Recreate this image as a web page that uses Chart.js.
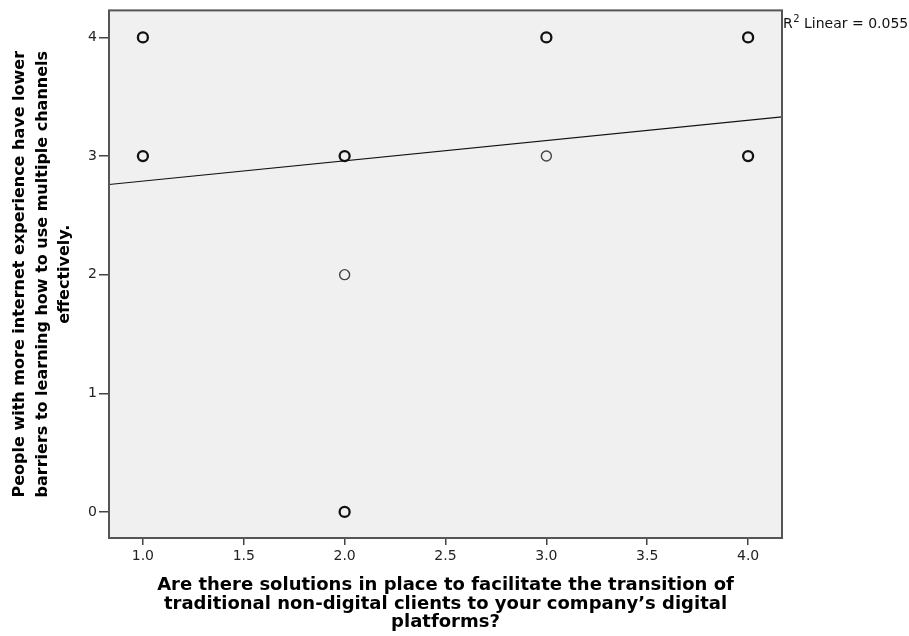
<!DOCTYPE html>
<html>
<head>
<meta charset="utf-8">
<script src="https://cdn.jsdelivr.net/npm/chart.js@4.4.1/dist/chart.umd.min.js"></script>
<style>
  html, body { margin: 0; padding: 0; background: #fff; }
  #wrap { width: 909px; height: 636px; }
</style>
</head>
<body>
<div id="wrap"><canvas id="scatter"></canvas></div>
<script>
// responses where several cases overlap (drawn heavier)
const stackedX = [1, 1, 2, 2, 3, 4, 4];
const stackedY = [4, 3, 3, 0, 4, 4, 3];
// single responses (drawn lighter)
const singleX = [2, 3];
const singleY = [2, 3];
// fit line ends
const fitX = [0.832, 4.168];
const fitY = [2.76, 3.33];
const xTicks = [1.0, 1.5, 2.0, 2.5, 3.0, 3.5, 4.0];
const yTicks = [0, 1, 2, 3, 4];
const r2Text = 'Linear = 0.055';

const toPoints = (xs, ys) => xs.map((x, i) => ({ x: x, y: ys[i] }));

// grey plot background + frame
const plotFrame = {
  id: 'plotFrame',
  beforeDraw(chart) {
    const { ctx, chartArea: a } = chart;
    ctx.save();
    ctx.fillStyle = '#f0f0f0';
    ctx.fillRect(a.left, a.top, a.right - a.left, a.bottom - a.top);
    ctx.restore();
  },
  afterDraw(chart) {
    const { ctx, chartArea: a } = chart;
    ctx.save();
    ctx.strokeStyle = '#555';
    ctx.lineWidth = 2;
    ctx.strokeRect(a.left, a.top, a.right - a.left, a.bottom - a.top);
    // R² label
    ctx.fillStyle = '#111';
    ctx.textBaseline = 'alphabetic';
    ctx.font = '14px "DejaVu Sans", sans-serif';
    let x = a.right + 1;
    const y = a.top + 18;
    ctx.fillText('R', x, y);
    x += ctx.measureText('R').width;
    ctx.font = '10px "DejaVu Sans", sans-serif';
    ctx.fillText('2', x + 0.5, y - 6);
    x += ctx.measureText('2').width + 0.5;
    ctx.font = '14px "DejaVu Sans", sans-serif';
    ctx.fillText(' ' + r2Text, x, y);
    ctx.restore();
  }
};

new Chart(document.getElementById('scatter'), {
  type: 'scatter',
  data: {
    datasets: [
      {
        type: 'line',
        data: toPoints(fitX, fitY),
        borderColor: '#111',
        borderWidth: 1.2,
        pointRadius: 0,
        fill: false
      },
      {
        data: toPoints(stackedX, stackedY),
        pointRadius: 5,
        pointBorderWidth: 2.3,
        pointBorderColor: '#111',
        pointBackgroundColor: 'rgba(0,0,0,0)'
      },
      {
        data: toPoints(singleX, singleY),
        pointRadius: 5,
        pointBorderWidth: 1.4,
        pointBorderColor: '#444',
        pointBackgroundColor: 'rgba(0,0,0,0)'
      }
    ]
  },
  options: {
    responsive: true,
    maintainAspectRatio: false,
    animation: false,
    layout: { padding: { top: 10, right: 127, left: 0, bottom: 0 } },
    plugins: { legend: { display: false }, tooltip: { enabled: false } },
    scales: {
      x: {
        type: 'linear',
        min: 0.832,
        max: 4.168,
        afterFit(scale) { scale.height = 98; },
        afterBuildTicks(scale) { scale.ticks = xTicks.map(v => ({ value: v })); },
        grid: { drawOnChartArea: false, drawTicks: true, tickLength: 7, color: '#444', lineWidth: 1.5 },
        border: { display: false },
        ticks: {
          padding: 3,
          color: '#222',
          font: { family: '"DejaVu Sans", sans-serif', size: 14 },
          callback: v => v.toFixed(1)
        },
        title: {
          display: true,
          text: ['Are there solutions in place to facilitate the transition of',
                 'traditional non-digital clients to your company\u2019s digital',
                 'platforms?'],
          color: '#000',
          font: { family: '"DejaVu Sans", sans-serif', size: 18, weight: 'bold', lineHeight: 1.03 },
          padding: { top: 0, bottom: 4 }
        }
      },
      y: {
        type: 'linear',
        min: -0.22,
        max: 4.228,
        afterFit(scale) { scale.width = 109; },
        afterBuildTicks(scale) { scale.ticks = yTicks.map(v => ({ value: v })); },
        grid: { drawOnChartArea: false, drawTicks: true, tickLength: 10, color: '#444', lineWidth: 1.5 },
        border: { display: false },
        ticks: {
          padding: 2,
          color: '#222',
          font: { family: '"DejaVu Sans", sans-serif', size: 14 }
        },
        title: {
          display: true,
          text: ['People with more internet experience have lower',
                 'barriers to learning how to use multiple channels',
                 'effectively.'],
          color: '#000',
          font: { family: '"DejaVu Sans", sans-serif', size: 16, weight: 'bold', lineHeight: 1.4 },
          padding: { top: 9, bottom: 0 }
        }
      }
    }
  },
  plugins: [plotFrame]
});
</script>
</body>
</html>
